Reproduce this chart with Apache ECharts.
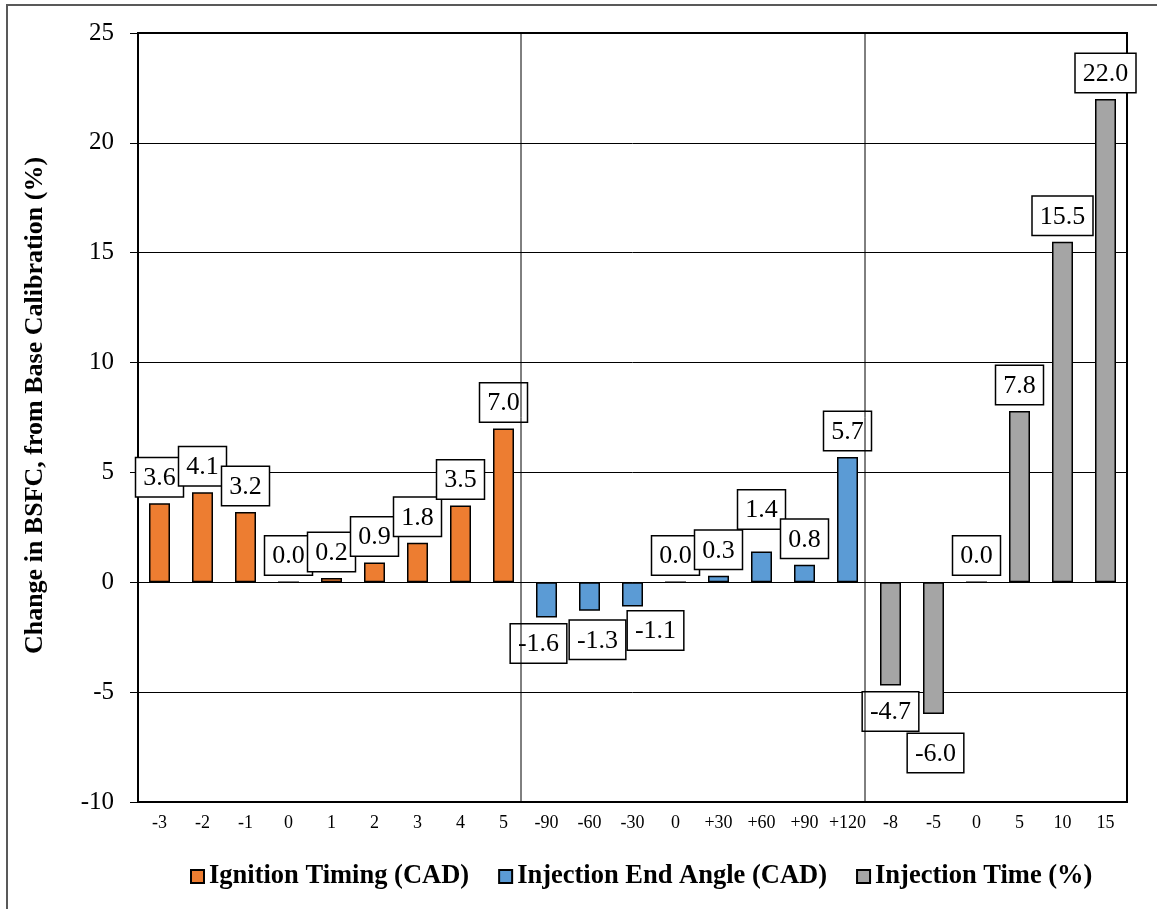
<!DOCTYPE html>
<html>
<head>
<meta charset="utf-8">
<title>Change in BSFC</title>
<script src="https://cdn.jsdelivr.net/npm/echarts@6/dist/echarts.min.js"></script>
<style>
  html, body { margin: 0; padding: 0; background: #fff; }
  #chart { width: 1157px; height: 909px; }
</style>
</head>
<body>
<div id="chart"></div>
<script>
// x categories, three groups side by side
const categories = ['-3', '-2', '-1', '0', '1', '2', '3', '4', '5',
  '-90', '-60', '-30', '0', '+30', '+60', '+90', '+120',
  '-8', '-5', '0', '5', '10', '15'];

// change in BSFC (%) per group
const ignitionTiming = [3.6, 4.1, 3.2, 0.0, 0.2, 0.9, 1.8, 3.5, 7.0];
const injectionEndAngle = [-1.6, -1.3, -1.1, 0.0, 0.3, 1.4, 0.8, 5.7];
const injectionTime = [-4.7, -6.0, 0.0, 7.8, 15.5, 22.0];

const seriesNames = ['Ignition Timing (CAD)', 'Injection End Angle (CAD)', 'Injection Time (%)'];
const yTicks = { min: -10, max: 25, step: 5 };

const FONT = '"Liberation Serif", "Times New Roman", serif';
const COLORS = ['#ED7D31', '#5B9BD5', '#A5A5A5'];

// labels moved by hand in the original to avoid overlaps (category index -> [dx, dy])
const labelNudge = { 9: [-8, 0], 10: [8, 3], 11: [23, -2], 14: [0, -16], 18: [2, 13] };

const chart = echarts.init(document.getElementById('chart'));

// place each group's values at its own slots, null elsewhere
function spread(values, start) {
  return categories.map((c, i) => {
    const k = i - start;
    if (k < 0 || k >= values.length) return null;
    const v = values[k];
    return v < 0 ? { value: v, label: { position: 'bottom' } } : v;
  });
}

const groups = [
  spread(ignitionTiming, 0),
  spread(injectionEndAngle, ignitionTiming.length),
  spread(injectionTime, ignitionTiming.length + injectionEndAngle.length)
];

const option = {
  animation: false,
  backgroundColor: '#fff',
  grid: {
    left: 138, right: 30, top: 33, bottom: 107,
    show: true, borderColor: '#000', borderWidth: 2
  },
  legend: {
    data: seriesNames,
    left: 185,
    top: 858,
    icon: 'rect',
    itemWidth: 13,
    itemHeight: 13,
    itemGap: 29,
    textStyle: { fontFamily: FONT, fontWeight: 'bold', fontSize: 26.5, color: '#000' }
  },
  xAxis: {
    type: 'category',
    data: categories,
    axisTick: { show: false },
    axisLine: { onZero: false, lineStyle: { color: '#000', width: 2 } },
    axisLabel: { interval: 0, fontFamily: FONT, fontSize: 18, color: '#000', margin: 12 },
    splitLine: { show: false }
  },
  yAxis: {
    type: 'value',
    min: yTicks.min,
    max: yTicks.max,
    interval: yTicks.step,
    name: 'Change in BSFC, from Base Calibration (%)',
    nameLocation: 'middle',
    nameGap: 90,
    nameTextStyle: {
      fontFamily: FONT, fontWeight: 'bold', fontSize: 26, color: '#000',
      padding: [0, 0, 0, 24]
    },
    axisLine: { show: true, lineStyle: { color: '#000', width: 2 } },
    axisTick: { show: true, length: 8, lineStyle: { color: '#000', width: 1 } },
    axisLabel: { fontFamily: FONT, fontSize: 25, color: '#000', margin: 24 },
    splitLine: { lineStyle: { color: '#000', width: 1 } }
  },
  series: seriesNames.map((name, s) => ({
    name: name,
    type: 'bar',
    data: groups[s],
    barWidth: 21,
    barGap: '-100%',
    itemStyle: { color: COLORS[s], borderColor: '#000', borderWidth: 1.5 },
    label: {
      show: true,
      position: 'top',
      distance: 7,
      formatter: p => p.value.toFixed(1),
      fontFamily: FONT,
      fontSize: 26,
      lineHeight: 26,
      color: '#000',
      backgroundColor: '#fff',
      borderColor: '#000',
      borderWidth: 1.5,
      padding: [7, 7, 5, 7]
    },
    labelLayout: p => {
      const n = labelNudge[p.dataIndex];
      return n ? { dx: n[0], dy: n[1], hideOverlap: false } : { hideOverlap: false };
    },
    z: 2
  }))
};

chart.setOption(option);

// vertical dividers between groups, drawn above the labels like the original
const splitAt = [ignitionTiming.length, ignitionTiming.length + injectionEndAngle.length];
const yTop = chart.convertToPixel({ yAxisIndex: 0 }, yTicks.max);
const yBottom = chart.convertToPixel({ yAxisIndex: 0 }, yTicks.min);
const dividers = splitAt.map(i => {
  const x = (chart.convertToPixel({ xAxisIndex: 0 }, i - 1) + chart.convertToPixel({ xAxisIndex: 0 }, i)) / 2 - 4;
  return {
    type: 'line',
    z: 100,
    shape: { x1: x, y1: yTop, x2: x, y2: yBottom },
    style: { stroke: '#000', lineWidth: 1 }
  };
});

chart.setOption({
  graphic: [
    {
      type: 'rect',
      z: -1,
      shape: { x: 7, y: 5, width: 1300, height: 1000 },
      style: { fill: 'none', stroke: '#595959', lineWidth: 2 }
    }
  ].concat(dividers)
});

window.addEventListener('resize', () => chart.resize());
</script>
</body>
</html>
